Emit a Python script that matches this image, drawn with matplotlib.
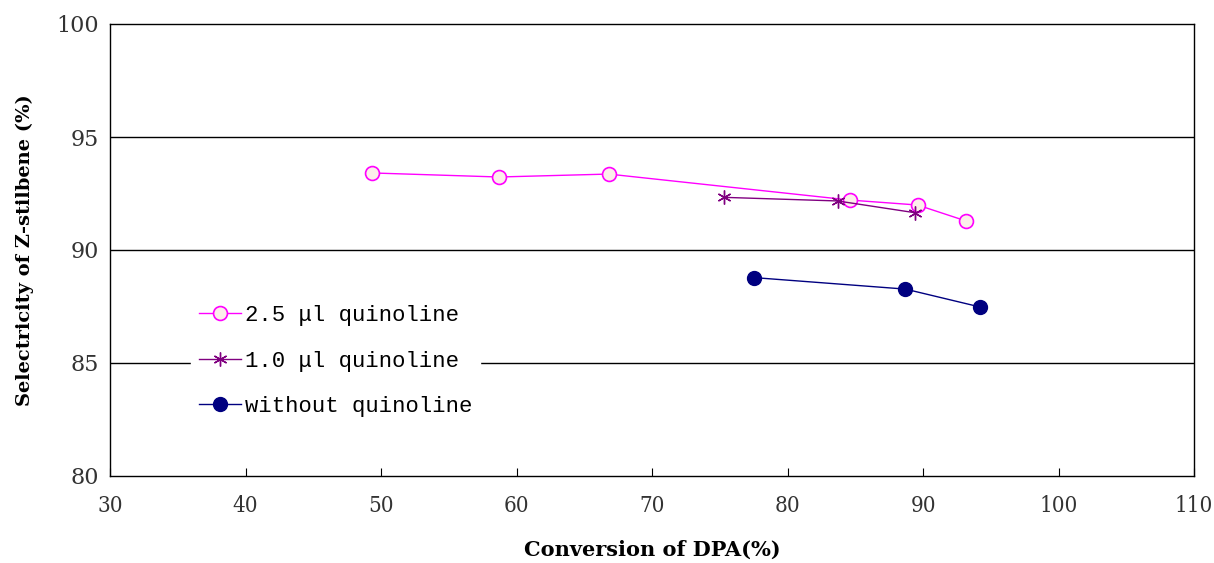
import matplotlib
matplotlib.use("Agg")
import matplotlib.pyplot as plt

x_25 = [49.3, 58.7, 66.8, 84.6, 89.6, 93.2]
y_25 = [93.41, 93.23, 93.36, 92.21, 91.99, 91.28]
x_10 = [75.3, 83.7, 89.4]
y_10 = [92.33, 92.17, 91.65]
x_00 = [77.5, 88.7, 94.2]
y_00 = [88.78, 88.27, 87.48]
labels = ["2.5 \u03bcl quinoline", "1.0 \u03bcl quinoline", "without quinoline"]
xticks = [30, 40, 50, 60, 70, 80, 90, 100, 110]
yticks = [80, 85, 90, 95, 100]

fig = plt.figure(figsize=(12.14, 5.63), dpi=100)
ax = fig.add_axes([110/1214, 1-476/563, (1194-110)/1214, (476-24)/563])

ax.plot(x_25, y_25, color="#FF00FF", lw=1, marker="o", ms=10, mfc="#FCEFEA", mec="#FF00FF", mew=1.2, label=labels[0], zorder=3)
ax.plot(x_10, y_10, color="#800080", lw=1, marker=(6, 2, 0), ms=10, mec="#800080", mew=1.0, label=labels[1], zorder=3)
ax.plot(x_00, y_00, color="#000080", lw=1, marker="o", ms=10, mfc="#000080", mec="#000080", label=labels[2], zorder=3)

ax.set_xlim(30, 110)
ax.set_ylim(80, 100)
ax.set_xticks(xticks)
ax.set_yticks(yticks)
for yv in yticks[1:-1]:
    ax.axhline(yv, color="black", lw=1, zorder=1)
for s in ax.spines.values():
    s.set_color("black")
    s.set_linewidth(1)
ax.tick_params(axis="x", direction="in", length=6, pad=14, labelsize=16)
ax.tick_params(axis="y", length=0, pad=8, labelsize=16)
for t in ax.get_xticklabels() + ax.get_yticklabels():
    t.set_fontfamily("DejaVu Serif")
    t.set_color("#333333")
for t in ax.get_xticklabels():
    t.set_fontstretch("condensed")

ax.set_xlabel("Conversion of DPA(%)", fontsize=15, fontweight="bold", family="DejaVu Serif", labelpad=16)
ax.set_ylabel("Selectricity of Z-stilbene (%)", fontsize=14, fontweight="bold", family="DejaVu Serif", labelpad=16)

leg = ax.legend(loc="upper left", bbox_to_anchor=(70/1084, 1-262/452), frameon=True, fancybox=False,
                edgecolor="white", facecolor="white", framealpha=1, prop={"family": "Liberation Mono", "size": 16},
                handlelength=1.9, handletextpad=0.15, labelspacing=1.1, borderpad=0.36)
leg.set_zorder(2)

fig.savefig("out.png", dpi=100)
